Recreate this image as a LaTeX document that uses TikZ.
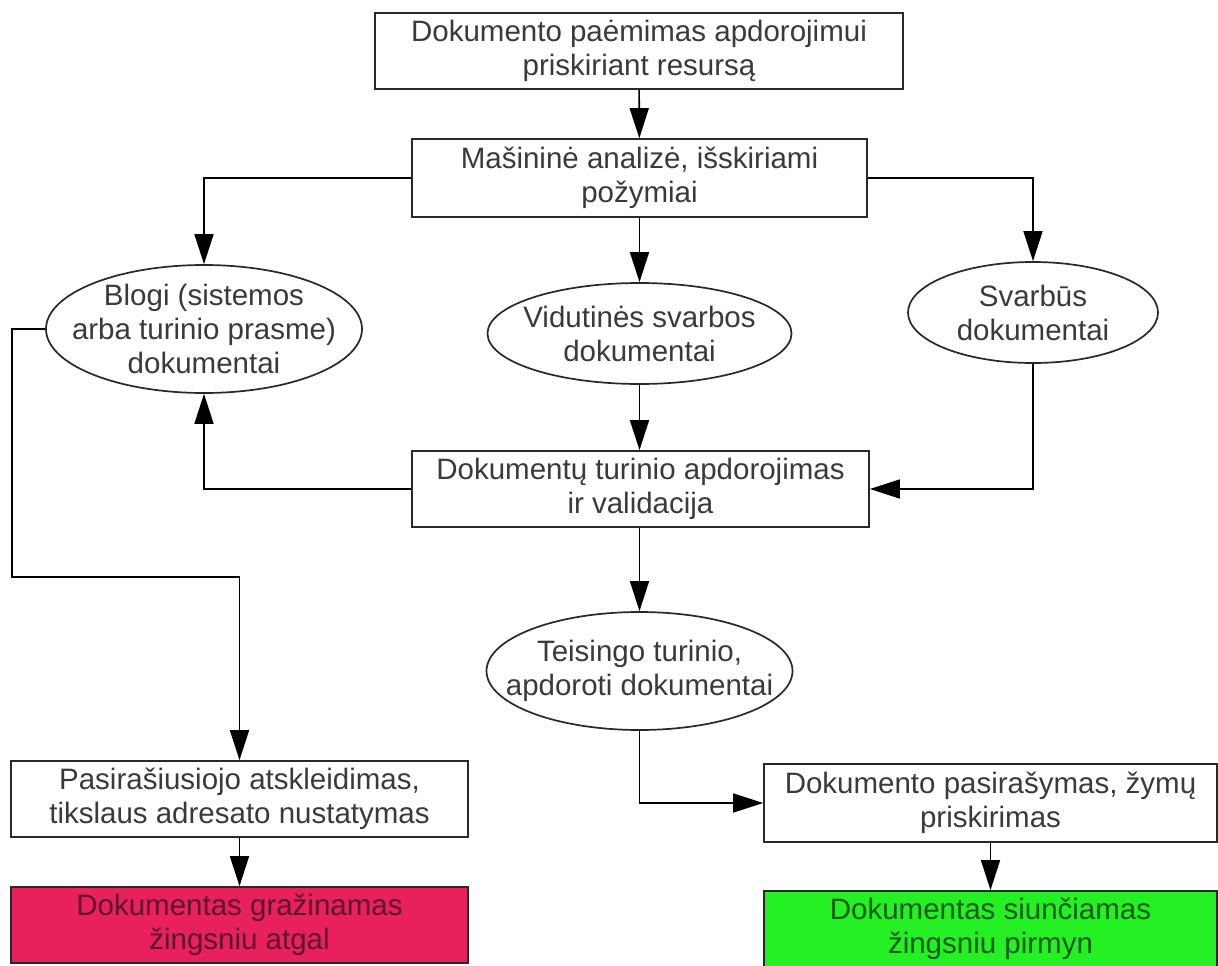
\documentclass[tikz,border=0pt]{standalone}
\usepackage{fontspec}
\setmainfont{Liberation Sans}
\usetikzlibrary{arrows.meta,shapes.geometric}
\definecolor{inkgray}{RGB}{58,58,58}
\definecolor{edgegray}{RGB}{40,40,40}
\definecolor{rejectred}{RGB}{232,32,92}
\definecolor{acceptgreen}{RGB}{36,240,36}
\definecolor{rejecttext}{RGB}{95,22,45}
\definecolor{accepttext}{RGB}{22,92,22}
\begin{document}
\begin{tikzpicture}[x=1pt,y=-1pt,
  every node/.style={font=\fontsize{29.5}{34}\selectfont, text=inkgray, align=center},
  stepbox/.style={draw=edgegray, line width=1.7pt, fill=white, minimum height=76pt, inner sep=0pt},
  stateshape/.style={ellipse, draw=edgegray, line width=1.7pt, fill=white, inner sep=0pt},
  flow/.style={draw=black, line width=1.6pt, -{Triangle[length=30pt,width=19pt]}}
]
\useasboundingbox (0,0) rectangle (1218,966);

% processing steps (rectangles)
\node[stepbox, minimum width=528pt] (A) at (639,51)
  {Dokumento paėmimas apdorojimui\\priskiriant resursą};
\node[stepbox, minimum width=455pt, minimum height=78pt] (B) at (639.5,178)
  {Mašininė analizė, išskiriami\\požymiai};
\node[stepbox, minimum width=457pt] (D) at (640.5,489)
  {Dokumentų turinio apdorojimas\\ir validacija};
\node[stepbox, minimum width=457pt] (F) at (239.5,799)
  {Pasirašiusiojo atskleidimas,\\tikslaus adresato nustatymas};
\node[stepbox, minimum width=457pt, fill=rejectred, text=rejecttext] (G) at (239.5,925)
  {Dokumentas gražinamas\\žingsniu atgal};
\node[stepbox, minimum width=453pt, minimum height=78pt] (H) at (990.5,803)
  {Dokumento pasirašymas, žymų\\priskirimas};
\node[stepbox, minimum width=453pt, fill=acceptgreen, text=accepttext] (I) at (990.5,929)
  {Dokumentas siunčiamas\\žingsniu pirmyn};

% document groups (fixed-size ellipses, text set on top)
\node[stateshape, minimum width=316pt, minimum height=128pt] (C1) at (204,329) {};
\node (C1t) at (C1.center) {Blogi (sistemos\\arba turinio prasme)\\dokumentai};
\node[stateshape, minimum width=304pt, minimum height=101pt] (C2) at (639.5,333.5) {};
\node (C2t) at (C2.center) {Vidutinės svarbos\\dokumentai};
\node[stateshape, minimum width=250pt, minimum height=101pt] (C3) at (1033,312.5) {};
\node (C3t) at (C3.center) {Svarbūs\\dokumentai};
\node[stateshape, minimum width=306pt, minimum height=118pt] (E) at (639.5,671) {};
\node (Et) at (E.center) {Teisingo turinio,\\apdoroti dokumentai};

% bends of the return path on the left
\coordinate (k1) at (12,329);
\coordinate (k2) at (12,577);

% connectors
\draw[flow] (A) -- (B);
\draw[flow] (B.west) -| (C1.north);
\draw[flow] (B) -- (C2);
\draw[flow] (B.east) -| (C3.north);
\draw[flow] (C2) -- (C2 |- D.north);
\draw[flow] (C3.south) |- (D.east);
\draw[flow] (D.west) -| (C1.south);
\draw[flow] (C1.west) -- (k1) -- (k2) -| (F.north);
\draw[flow] (D.south -| E.north) -- (E.north);
\draw[flow] (E.south) |- (H.west);
\draw[flow] (F) -- (G);
\draw[flow] (H) -- (I);
\end{tikzpicture}
\end{document}
